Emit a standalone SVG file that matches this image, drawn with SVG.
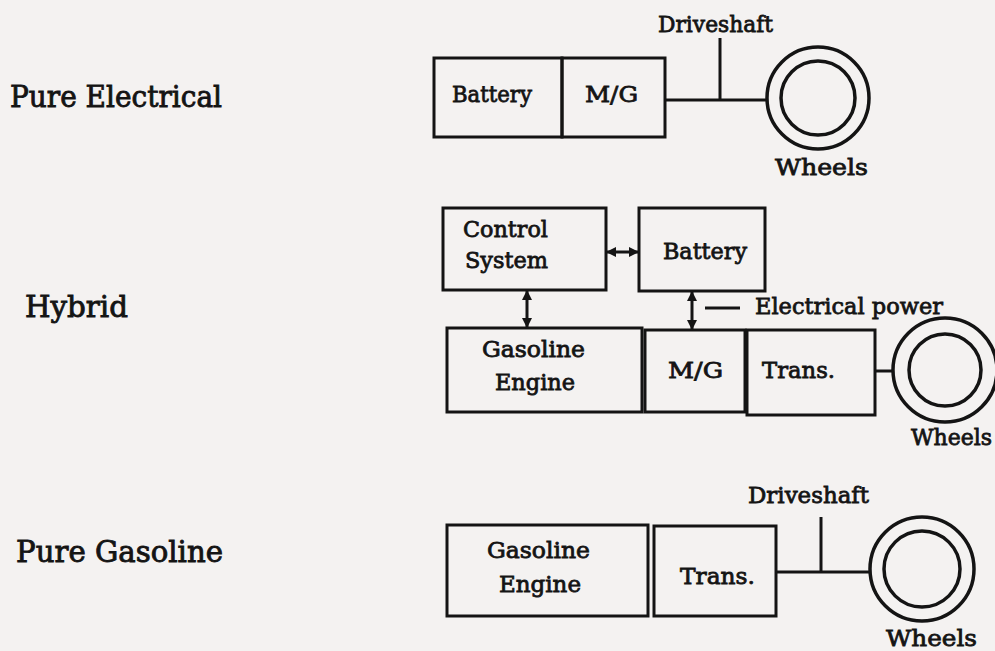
<svg xmlns="http://www.w3.org/2000/svg" width="995" height="651" viewBox="0 0 995 651">
<style>
.bg{fill:#f4f2f1}
.box{fill:none;stroke:#141414;stroke-width:3}
.ln{fill:none;stroke:#141414;stroke-width:3}
.wh{fill:none;stroke:#141414;stroke-width:3.5}
.ar{fill:none;stroke:#141414;stroke-width:3}
.t{font-family:"DejaVu Serif","Liberation Serif",serif;font-size:23px;fill:#141414;stroke:#141414;stroke-width:0.8}
.lbl{font-family:"DejaVu Serif","Liberation Serif",serif;font-size:30px;fill:#141414;stroke:#141414;stroke-width:0.9}
</style>
<defs>
<marker id="ah" viewBox="0 0 10 10" refX="9" refY="5" markerWidth="10" markerHeight="10" markerUnits="userSpaceOnUse" orient="auto-start-reverse">
<path d="M0,0 L10,5 L0,10 z" fill="#141414"/>
</marker>
</defs>
<rect class="bg" x="0" y="0" width="995" height="651"/>

<g id="labels">
<text class="lbl" x="10" y="107" textLength="212" lengthAdjust="spacingAndGlyphs">Pure Electrical</text>
<text class="lbl" x="25" y="317" textLength="103" lengthAdjust="spacingAndGlyphs">Hybrid</text>
<text class="lbl" x="16" y="562" textLength="207" lengthAdjust="spacingAndGlyphs">Pure Gasoline</text>
</g>

<!-- Pure Electrical -->
<g id="pe-battery">
<rect class="box" x="434" y="58" width="128" height="79"/>
<text class="t" x="452" y="102" textLength="80" lengthAdjust="spacingAndGlyphs">Battery</text>
</g>
<g id="pe-mg">
<rect class="box" x="562" y="58" width="103" height="79"/>
<text class="t" x="585" y="102" textLength="53" lengthAdjust="spacingAndGlyphs">M/G</text>
</g>
<g id="pe-wheels">
<circle class="wh" cx="818" cy="98" r="51"/>
<circle class="wh" cx="818" cy="98" r="37"/>
<text class="t" x="775" y="175" textLength="93" lengthAdjust="spacingAndGlyphs">Wheels</text>
</g>
<g id="pe-driveshaft">
<text class="t" x="658" y="32" textLength="115" lengthAdjust="spacingAndGlyphs">Driveshaft</text>
</g>

<!-- Hybrid -->
<g id="hy-control">
<rect class="box" x="443" y="208" width="163" height="82"/>
<text class="t" x="463" y="237" textLength="85" lengthAdjust="spacingAndGlyphs">Control</text>
<text class="t" x="465" y="268" textLength="83" lengthAdjust="spacingAndGlyphs">System</text>
</g>
<g id="hy-battery">
<rect class="box" x="639" y="208" width="126" height="83"/>
<text class="t" x="663" y="259" textLength="84" lengthAdjust="spacingAndGlyphs">Battery</text>
</g>
<g id="hy-engine">
<rect class="box" x="447" y="328" width="195" height="84"/>
<text class="t" x="482" y="357" textLength="103" lengthAdjust="spacingAndGlyphs">Gasoline</text>
<text class="t" x="495" y="390" textLength="80" lengthAdjust="spacingAndGlyphs">Engine</text>
</g>
<g id="hy-mg">
<rect class="box" x="645" y="330" width="100" height="82"/>
<text class="t" x="668" y="378" textLength="55" lengthAdjust="spacingAndGlyphs">M/G</text>
</g>
<g id="hy-trans">
<rect class="box" x="747" y="330" width="128" height="85"/>
<text class="t" x="762" y="378" textLength="73" lengthAdjust="spacingAndGlyphs">Trans.</text>
</g>
<g id="hy-wheels">
<circle class="wh" cx="945" cy="370" r="52"/>
<circle class="wh" cx="945" cy="370" r="36"/>
<text class="t" x="911" y="445" textLength="81" lengthAdjust="spacingAndGlyphs">Wheels</text>
</g>
<g id="hy-power-label">
<text class="t" x="755" y="314" textLength="188" lengthAdjust="spacingAndGlyphs">Electrical power</text>
</g>

<!-- Pure Gasoline -->
<g id="pg-engine">
<rect class="box" x="447" y="525" width="201" height="91"/>
<text class="t" x="487" y="558" textLength="103" lengthAdjust="spacingAndGlyphs">Gasoline</text>
<text class="t" x="499" y="592" textLength="82" lengthAdjust="spacingAndGlyphs">Engine</text>
</g>
<g id="pg-trans">
<rect class="box" x="654" y="526" width="122" height="90"/>
<text class="t" x="680" y="584" textLength="75" lengthAdjust="spacingAndGlyphs">Trans.</text>
</g>
<g id="pg-wheels">
<circle class="wh" cx="922" cy="569" r="52"/>
<circle class="wh" cx="922" cy="569" r="38"/>
<text class="t" x="886" y="646" textLength="91" lengthAdjust="spacingAndGlyphs">Wheels</text>
</g>
<g id="pg-driveshaft">
<text class="t" x="748" y="503" textLength="121" lengthAdjust="spacingAndGlyphs">Driveshaft</text>
</g>

<g id="connectors">
<line class="ln" x1="665" y1="100" x2="767" y2="100"/>
<line class="ln" x1="720" y1="38" x2="720" y2="100"/>
<line class="ar" x1="607" y1="252" x2="638" y2="252" marker-start="url(#ah)" marker-end="url(#ah)"/>
<line class="ar" x1="527" y1="291" x2="527" y2="327" marker-start="url(#ah)" marker-end="url(#ah)"/>
<line class="ar" x1="692" y1="292" x2="692" y2="329" marker-start="url(#ah)" marker-end="url(#ah)"/>
<line class="ln" x1="705" y1="308" x2="740" y2="308"/>
<line class="ln" x1="875" y1="371" x2="893" y2="371"/>
<line class="ln" x1="776" y1="572" x2="870" y2="572"/>
<line class="ln" x1="821" y1="517" x2="821" y2="572"/>
</g>
</svg>
